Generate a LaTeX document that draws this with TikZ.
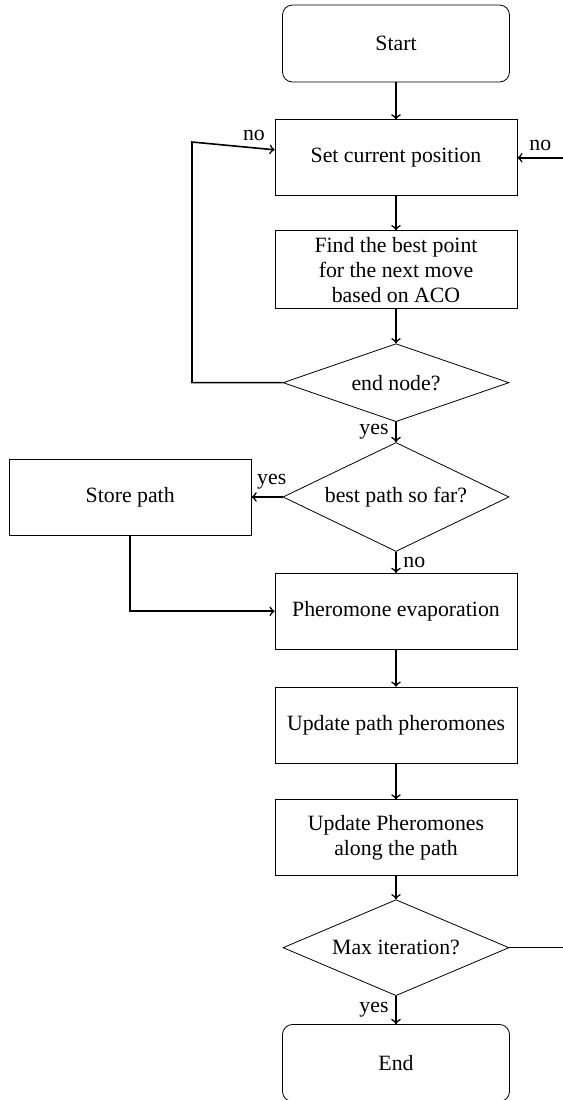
\documentclass[tikz,border=0pt]{standalone}
\usepackage{fontspec}
\setmainfont{Liberation Serif}
\usetikzlibrary{positioning,shapes.geometric}

\begin{document}
\begin{tikzpicture}[x=0.5pt,y=-0.5pt,font=\fontsize{10.9}{12.4}\selectfont,
  term/.style={draw,rounded corners=5pt,minimum width=113.5pt,minimum height=38.5pt,align=center},
  proc/.style={draw,minimum width=121pt,minimum height=38pt,align=center},
  decision/.style={draw,diamond,aspect=2,inner sep=0pt,minimum width=113pt},
  arr/.style={->,thick}
]
  \useasboundingbox (0,0) rectangle (563,1100);
  \node[term] (start) at (396,43.5) {Start};
  \node[proc,below=18.5pt of start] (setpos) {Set current position};
  \node[proc,below=17pt of setpos] (findpt) {Find the best point\\for the next move\\based on ACO};
  \node[decision,minimum height=39pt,below=17pt of findpt] (endnd) {end node?};
  \node[decision,minimum height=54.5pt,below=10pt of endnd] (bestpath) {best path so far?};
  \node[proc,left=15.5pt of bestpath] (store) {Store path};
  \node[proc,below=10.5pt of bestpath] (evap) {Pheromone evaporation};
  \node[proc,below=18.5pt of evap] (updpath) {Update path pheromones};
  \node[proc,below=18pt of updpath] (updalong) {Update Pheromones\\along the path};
  \node[decision,minimum height=48pt,below=11.5pt of updalong] (maxit) {Max iteration?};
  \node[term,below=14pt of maxit] (finish) {End};
  \coordinate (lturn) at (192,142);
  \coordinate[right=45pt of maxit.east] (rturn);
  % main flow
  \draw[arr] (start) -- (setpos);
  \draw[arr] (setpos) -- (findpt);
  \draw[arr] (findpt) -- (endnd);
  \draw[arr] (endnd) -- node[left] {yes} (bestpath);
  \draw[arr] (bestpath) -- node[right] {no} (evap);
  \draw[arr] (evap) -- (updpath);
  \draw[arr] (updpath) -- (updalong);
  \draw[arr] (updalong) -- (maxit);
  \draw[arr] (maxit) -- node[left] {yes} (finish);
  % side branches
  \draw[arr] (bestpath.west) -- node[above,pos=0.35] {yes} (store.east);
  \draw[arr] (store.south) |- (evap.west);
  \draw[arr] (endnd.west) -| (lturn) -- node[above,pos=0.75] {no} ([yshift=4pt]setpos.west);
  \draw[arr] (maxit.east) -- (rturn) |- node[above,pos=0.86] {no} (setpos.east);
\end{tikzpicture}
\end{document}
